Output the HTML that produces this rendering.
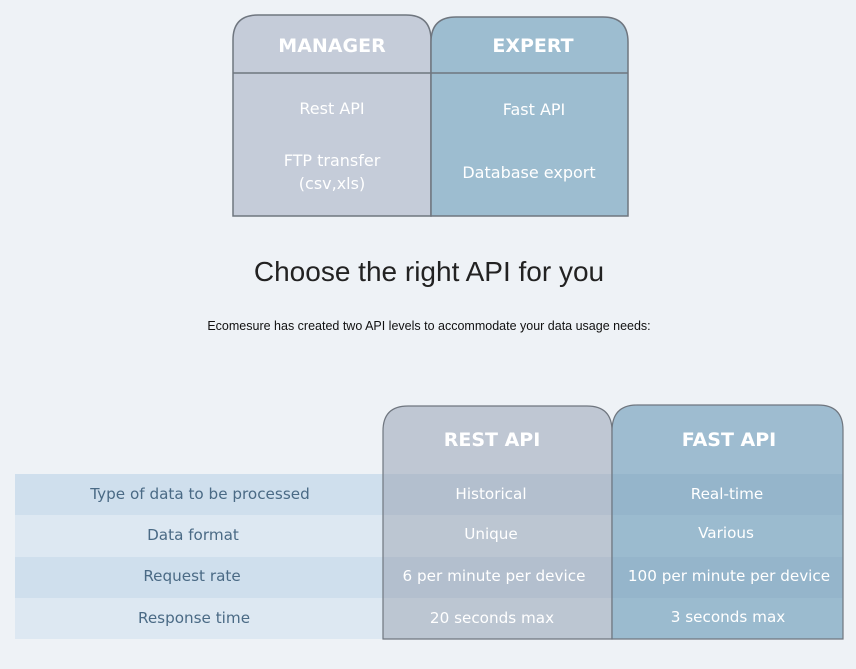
<!DOCTYPE html>
<html><head><meta charset="utf-8"><style>
html,body{margin:0;padding:0;background:#eef2f6;width:856px;height:669px;overflow:hidden}
svg{display:block}
.w{fill:#fff;font-family:"DejaVu Sans","Liberation Sans",sans-serif;text-anchor:middle}
.l{fill:#4a6a85;font-family:"DejaVu Sans","Liberation Sans",sans-serif;text-anchor:middle;font-size:15.2px}
</style></head><body>
<svg width="856" height="669" viewBox="0 0 856 669">
<rect width="856" height="669" fill="#eef2f6"/>
<path d="M233,216 V40 Q233,15 258,15 H406 Q431,15 431,40 V216 Z" fill="#c5ccd9" stroke="#6f767f" stroke-width="1.5"/>
<path d="M431,216 V42 Q431,17 456,17 H603 Q628,17 628,42 V216 Z" fill="#9dbdd0" stroke="#6f767f" stroke-width="1.5"/>
<line x1="233" y1="73" x2="628" y2="73" stroke="#6f767f" stroke-width="1.5"/>
<text class="w" x="332" y="52" font-size="19" font-weight="bold">MANAGER</text>
<text class="w" x="533" y="52" font-size="19" font-weight="bold">EXPERT</text>
<text class="w" x="332" y="114" font-size="16">Rest API</text>
<text class="w" x="332" y="166" font-size="16">FTP transfer</text>
<text class="w" x="332" y="189" font-size="16">(csv,xls)</text>
<text class="w" x="534" y="115" font-size="16">Fast API</text>
<text class="w" x="529" y="178" font-size="16">Database export</text>
<text x="429" y="281" text-anchor="middle" font-family="Liberation Sans,sans-serif" font-size="28" fill="#222">Choose the right API for you</text>
<text x="429" y="330" text-anchor="middle" font-family="Liberation Sans,sans-serif" font-size="12.5" fill="#111">Ecomesure has created two API levels to accommodate your data usage needs:</text>
<rect x="15" y="474" width="828" height="41" fill="#cfdfed"/>
<rect x="15" y="515" width="828" height="42" fill="#dde8f2"/>
<rect x="15" y="557" width="828" height="41" fill="#cfdfed"/>
<rect x="15" y="598" width="828" height="41" fill="#dde8f2"/>
<path d="M383,639 V431 Q383,406 408,406 H587 Q612,406 612,431 V639 Z" fill="#b6bfcc" fill-opacity="0.85" stroke="#6f767f" stroke-width="1.2"/>
<path d="M612,639 V431 Q612,405 637,405 H818 Q843,405 843,430 V639 Z" fill="#8fb3c9" fill-opacity="0.85" stroke="#6f767f" stroke-width="1.2"/>
<rect x="384" y="474" width="458" height="41" fill="#6a8aa5" fill-opacity="0.08"/>
<rect x="384" y="557" width="458" height="41" fill="#6a8aa5" fill-opacity="0.08"/>
<text class="w" x="492" y="446" font-size="19" font-weight="bold">REST API</text>
<text class="w" x="729" y="446" font-size="19" font-weight="bold">FAST API</text>
<text class="l" x="200" y="499">Type of data to be processed</text>
<text class="l" x="193" y="540">Data format</text>
<text class="l" x="192" y="581">Request rate</text>
<text class="l" x="194" y="623">Response time</text>
<text class="w" x="491" y="499" font-size="15.2">Historical</text>
<text class="w" x="491" y="539" font-size="15.2">Unique</text>
<text class="w" x="494" y="581" font-size="15.2">6 per minute per device</text>
<text class="w" x="492" y="623" font-size="15.2">20 seconds max</text>
<text class="w" x="727" y="499" font-size="15.2">Real-time</text>
<text class="w" x="726" y="538" font-size="15.2">Various</text>
<text class="w" x="729" y="581" font-size="15.2">100 per minute per device</text>
<text class="w" x="728" y="622" font-size="15.2">3 seconds max</text>
</svg>
</body></html>
